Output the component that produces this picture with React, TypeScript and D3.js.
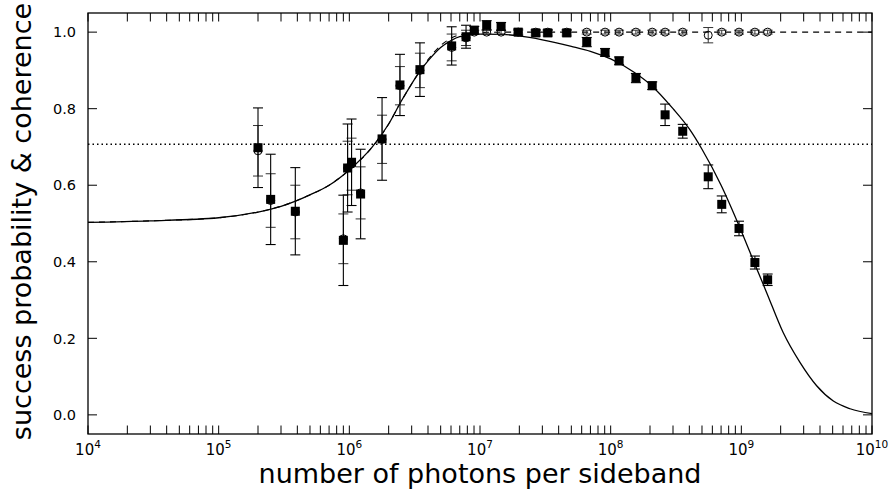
import React from "react";
import * as d3 from "d3";

// ---- data ----
const sqN = [2.0e5, 2.5e5, 3.86e5, 9.0e5, 9.7e5, 1.04e6, 1.22e6, 1.78e6, 2.44e6, 3.47e6, 6.07e6, 7.82e6, 9.04e6, 1.125e7, 1.45e7, 1.96e7, 2.67e7, 3.3e7, 4.61e7, 6.56e7, 9.06e7, 1.16e8, 1.56e8, 2.08e8, 2.61e8, 3.56e8, 5.58e8, 7.08e8, 9.6e8, 1.27e9, 1.59e9];
const sqP = [0.698, 0.563, 0.532, 0.456, 0.645, 0.66, 0.577, 0.721, 0.862, 0.902, 0.964, 0.988, 1.005, 1.018, 1.015, 1.0, 0.998, 0.998, 0.998, 0.974, 0.947, 0.925, 0.88, 0.86, 0.784, 0.741, 0.622, 0.55, 0.487, 0.398, 0.353];
const sqErr = [0.104, 0.118, 0.114, 0.118, 0.115, 0.113, 0.117, 0.108, 0.08, 0.07, 0.05, 0.03, 0.01, 0.012, 0.01, 0.008, 0.008, 0.008, 0.008, 0.012, 0.01, 0.01, 0.012, 0.01, 0.028, 0.018, 0.031, 0.022, 0.019, 0.017, 0.015];
const ciP = [0.69, 0.56, 0.53, 0.46, 0.645, 0.655, 0.58, 0.72, 0.86, 0.9, 0.96, 0.985, 1.0, 1.0, 1.0, 1.0, 1.0, 1.0, 1.0, 1.0, 1.0, 1.0, 1.0, 1.0, 1.0, 1.0, 0.992, 1.0, 1.0, 1.0, 1.0];
const ciErr = [0.066, 0.07, 0.07, 0.065, 0.07, 0.068, 0.068, 0.063, 0.05, 0.045, 0.035, 0.02, 0.005, 0.005, 0.005, 0.005, 0.005, 0.005, 0.005, 0.005, 0.005, 0.005, 0.005, 0.005, 0.005, 0.005, 0.02, 0.005, 0.005, 0.005, 0.005];

const fitN = [1e4, 3e4, 1e5, 2e5, 3e5, 5e5, 7e5, 1e6, 1.5e6, 2e6, 2.5e6, 3e6, 3.5e6, 4e6, 5e6, 6e6, 7e6, 1e7, 1.5e7, 2e7, 3e7, 5e7, 7e7, 1e8, 1.5e8, 2e8, 3e8, 4e8, 5e8, 7e8, 1e9, 1.3e9, 1.56e9, 2.09e9, 2.81e9, 3.77e9, 5.06e9, 6.79e9, 1e10];
const fitP = [0.503, 0.507, 0.515, 0.53, 0.545, 0.575, 0.6, 0.64, 0.7, 0.76, 0.82, 0.865, 0.9, 0.925, 0.96, 0.978, 0.988, 0.995, 0.994, 0.99, 0.98, 0.963, 0.95, 0.93, 0.896, 0.864, 0.8, 0.747, 0.694, 0.6, 0.48, 0.385, 0.32, 0.215, 0.137, 0.076, 0.036, 0.016, 0.003];

const cohN = [1e4, 3e4, 1e5, 2e5, 3e5, 5e5, 7e5, 1e6, 1.5e6, 2e6, 2.5e6, 3e6, 3.5e6, 4e6, 5e6, 6e6, 7e6, 1e7, 1.5e7, 1e8, 1e9, 1e10];
const cohP = [0.503, 0.507, 0.515, 0.53, 0.545, 0.575, 0.6, 0.64, 0.7, 0.76, 0.82, 0.865, 0.9, 0.928, 0.965, 0.984, 0.993, 0.999, 1.0, 1.0, 1.0, 1.0];

const thresholdP = [0.7071];
const yTicks = [0.0, 0.2, 0.4, 0.6, 0.8, 1.0];
const xDecades = [4, 5, 6, 7, 8, 9, 10];

const W = 891, H = 489;
const L = 88, R = 872, T = 13, B = 434;

export default function App() {
  const x = d3.scaleLog().domain([1e4, 1e10]).range([L, R]);
  const y = d3.scaleLinear().domain([-0.05, 1.05]).range([B, T]);

  const line = d3.line<[number, number]>()
    .x(d => x(d[0]))
    .y(d => y(d[1]))
    .curve(d3.curveMonotoneX);

  const fitPath = line(fitN.map((n, i) => [n, fitP[i]] as [number, number])) || "";
  const cohPath = line(cohN.map((n, i) => [n, cohP[i]] as [number, number])) || "";

  const minor: number[] = [];
  for (let k = 4; k < 10; k++) for (let m = 2; m <= 9; m++) minor.push(m * Math.pow(10, k));
  const major = xDecades.map(k => Math.pow(10, k));
  const tl = 8.5;
  const font = "DejaVu Sans, sans-serif";
  const cap = 5;
  const sq = 9;

  return (
    <svg width={W} height={H} style={{ position: "absolute", left: 0, top: 0, background: "#fff" }}>
      <rect x={0} y={0} width={W} height={H} fill="#fff" />
      {thresholdP.map((p, i) => (
        <line key={i} x1={L} x2={R} y1={y(p)} y2={y(p)} stroke="#000" strokeWidth={1.5} strokeDasharray="1.5,3" />
      ))}
      <path d={cohPath} fill="none" stroke="#000" strokeWidth={1.1} strokeDasharray="6,5" />
      <path d={fitPath} fill="none" stroke="#000" strokeWidth={1.3} />

      {sqN.map((n, i) => {
        const cx = x(n), y1 = y(ciP[i] - ciErr[i]), y2 = y(ciP[i] + ciErr[i]);
        return (
          <g key={"ce" + i} stroke="#333" strokeWidth={1}>
            <line x1={cx} x2={cx} y1={y1} y2={y2} />
            <line x1={cx - cap} x2={cx + cap} y1={y1} y2={y1} />
            <line x1={cx - cap} x2={cx + cap} y1={y2} y2={y2} />
          </g>
        );
      })}
      {sqN.map((n, i) => (
        <circle key={"c" + i} cx={x(n)} cy={y(ciP[i])} r={4} fill="none" stroke="#000" strokeWidth={1} />
      ))}
      {sqN.map((n, i) => {
        const cx = x(n), y1 = y(sqP[i] - sqErr[i]), y2 = y(sqP[i] + sqErr[i]);
        return (
          <g key={"se" + i} stroke="#000" strokeWidth={1.1}>
            <line x1={cx} x2={cx} y1={y1} y2={y2} />
            <line x1={cx - cap} x2={cx + cap} y1={y1} y2={y1} />
            <line x1={cx - cap} x2={cx + cap} y1={y2} y2={y2} />
          </g>
        );
      })}
      {sqN.map((n, i) => (
        <rect key={"s" + i} x={x(n) - sq / 2} y={y(sqP[i]) - sq / 2} width={sq} height={sq} fill="#000" />
      ))}

      <rect x={L} y={T} width={R - L} height={B - T} fill="none" stroke="#000" strokeWidth={1.3} />

      {[...major, ...minor].map((v, i) => (
        <g key={"xt" + i} stroke="#000" strokeWidth={1}>
          <line x1={x(v)} x2={x(v)} y1={B} y2={B - tl} />
          <line x1={x(v)} x2={x(v)} y1={T} y2={T + tl} />
        </g>
      ))}
      {xDecades.map(k => (
        <text key={"xl" + k} x={x(Math.pow(10, k))} y={455} textAnchor="middle" fontFamily={font} fontSize={15} fill="#000">
          10<tspan fontSize={10.5} dy={-7}>{k}</tspan>
        </text>
      ))}
      {yTicks.map((v, i) => (
        <g key={"yt" + i} stroke="#000" strokeWidth={1}>
          <line x1={L} x2={L + 9} y1={y(v)} y2={y(v)} />
          <line x1={R} x2={R - 9} y1={y(v)} y2={y(v)} />
        </g>
      ))}
      {yTicks.map((v, i) => (
        <text key={"yl" + i} x={76} y={y(v)} dy="0.36em" textAnchor="end" fontFamily={font} fontSize={14.5} fill="#000">
          {v.toFixed(1)}
        </text>
      ))}

      <text x={(L + R) / 2} y={482.5} textAnchor="middle" fontFamily={font} fontSize={27} fill="#000">
        number of photons per sideband
      </text>
      <text transform={`translate(31,${(T + B) / 2 - 2}) rotate(-90)`} textAnchor="middle" fontFamily={font} fontSize={27} fill="#000">
        success probability &amp; coherence
      </text>
    </svg>
  );
}
